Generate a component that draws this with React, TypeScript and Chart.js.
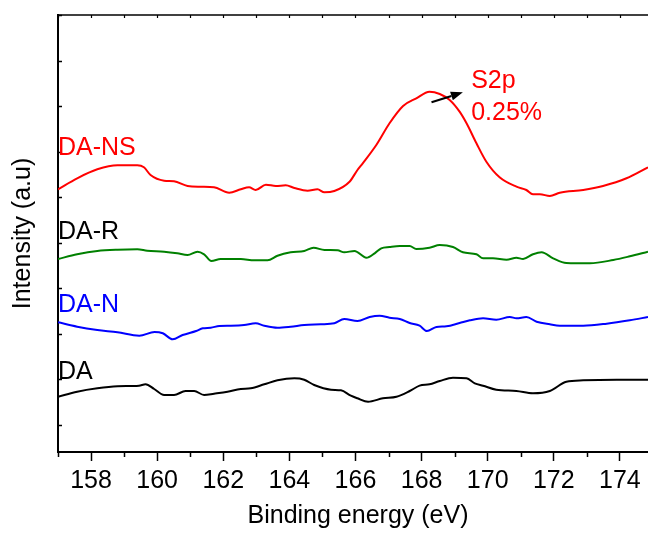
import React, { useEffect, useRef } from 'react';
import { Chart, registerables } from 'chart.js';

Chart.register(...registerables);

// ---- axis ranges / ticks ----
const xMin = 157;
const xMax = 174.85;
const xTickValues = [157, 158, 159, 160, 161, 162, 163, 164, 165, 166, 167, 168, 169, 170, 171, 172, 173, 174];
const yMin = 0;
const yMax = 96;
const yTickValues = [6, 16, 26, 36, 46, 56, 66, 76, 86, 96];
const xTitle = 'Binding energy (eV)';
const yTitle = 'Intensity (a.u)';

// ---- series data (binding energy eV, intensity a.u.) ----
const daNsEnergy = [157.0, 157.58, 158.19, 158.8, 159.4, 159.6, 159.8, 160.21, 160.51, 160.92, 161.32, 161.72, 162.18, 162.53, 162.78, 162.98, 163.29, 163.59, 163.89, 164.15, 164.55, 164.85, 165.06, 165.36, 165.82, 166.06, 166.22, 166.63, 167.03, 167.44, 167.84, 168.24, 168.55, 168.85, 169.15, 169.36, 169.66, 169.96, 170.36, 170.87, 171.17, 171.37, 171.58, 171.88, 172.18, 172.89, 173.49, 174.2, 174.85];
const daNsIntensity = [57.71, 60.13, 62.1, 62.98, 62.98, 62.54, 60.85, 59.6, 59.47, 58.44, 58.28, 58.15, 56.96, 57.71, 58.15, 57.56, 58.72, 58.44, 58.59, 58.0, 57.4, 57.71, 57.05, 57.34, 59.38, 61.95, 63.42, 67.44, 72.21, 76.01, 77.7, 79.15, 78.65, 77.33, 74.76, 72.21, 67.82, 63.77, 60.35, 58.28, 57.56, 56.61, 56.61, 56.24, 56.96, 57.56, 58.44, 60.13, 62.54];

const daREnergy = [157.0, 157.58, 158.19, 158.8, 159.4, 159.7, 160.21, 160.61, 160.92, 161.22, 161.42, 161.64, 161.92, 162.23, 162.53, 162.94, 163.34, 163.64, 164.04, 164.45, 164.73, 165.06, 165.46, 165.66, 165.97, 166.33, 166.58, 166.78, 167.03, 167.34, 167.64, 167.84, 168.24, 168.55, 168.95, 169.25, 169.66, 169.86, 170.16, 170.57, 170.87, 171.07, 171.37, 171.63, 171.98, 172.38, 173.09, 173.8, 174.3, 174.85];
const daRIntensity = [42.4, 43.43, 44.16, 44.44, 44.53, 44.22, 44.0, 43.65, 43.28, 44.0, 43.43, 41.96, 42.4, 42.4, 42.4, 42.11, 42.11, 43.12, 43.87, 44.16, 44.88, 44.38, 44.31, 43.87, 44.16, 42.68, 43.65, 44.75, 45.03, 45.25, 45.25, 44.6, 44.88, 45.47, 45.03, 43.87, 43.43, 42.55, 42.55, 42.24, 42.68, 42.4, 43.43, 43.87, 42.55, 41.52, 41.45, 42.18, 42.99, 44.0];

const daNEnergy = [157.0, 157.58, 158.19, 158.8, 159.46, 159.92, 160.17, 160.47, 160.77, 161.18, 161.38, 161.62, 161.88, 162.23, 162.63, 162.98, 163.24, 163.64, 164.04, 164.45, 164.95, 165.36, 165.66, 166.06, 166.43, 166.73, 167.03, 167.34, 167.64, 167.94, 168.16, 168.45, 168.75, 169.15, 169.46, 169.86, 170.26, 170.67, 170.87, 171.17, 171.48, 171.88, 172.18, 172.89, 173.6, 174.3, 174.85];
const daNIntensity = [28.49, 27.53, 26.8, 26.3, 25.55, 26.36, 26.08, 24.76, 25.7, 26.58, 27.17, 27.31, 27.68, 27.75, 27.9, 28.27, 27.75, 27.31, 27.53, 27.9, 28.05, 28.27, 29.22, 28.78, 29.66, 29.94, 29.5, 29.22, 28.34, 27.75, 26.58, 27.46, 27.61, 28.34, 28.93, 29.37, 29.06, 29.66, 29.37, 29.66, 28.62, 28.05, 27.75, 27.75, 28.19, 28.93, 29.66];

const daEnergy = [157.0, 157.58, 158.19, 158.8, 159.45, 159.65, 159.91, 160.21, 160.51, 160.86, 161.12, 161.42, 161.72, 162.13, 162.53, 162.83, 163.24, 163.64, 164.15, 164.45, 164.75, 165.26, 165.56, 165.86, 166.06, 166.38, 166.83, 167.24, 167.64, 167.94, 168.24, 168.55, 168.95, 169.36, 169.61, 169.86, 170.26, 170.87, 171.37, 171.88, 172.38, 172.89, 173.9, 174.85];
const daIntensity = [12.15, 13.25, 13.99, 14.43, 14.57, 14.87, 13.84, 12.52, 12.52, 13.4, 13.4, 12.52, 12.81, 13.25, 13.84, 13.99, 14.87, 15.75, 16.19, 15.88, 14.72, 13.69, 13.55, 12.37, 11.8, 11.05, 11.8, 12.15, 13.4, 14.57, 14.87, 15.6, 16.32, 16.19, 15.09, 14.57, 13.69, 13.4, 12.9, 13.4, 15.44, 15.75, 15.88, 15.88];

// ---- labels ----
const seriesNames = ['DA-NS', 'DA-R', 'DA-N', 'DA'];
const seriesColors = ['#ff0000', '#008000', '#0000ff', '#000000'];
const labelColors = ['#ff0000', '#000000', '#0000ff', '#000000'];
const labelEnergy = [157.0, 157.0, 157.0, 157.0];
const labelIntensity = [65.25, 46.79, 30.76, 16.04];
const peakText = ['S2p', '0.25%'];
const peakTextEnergy = 169.5;
const peakTextIntensity = [79.96, 72.93];
const arrowFrom = [168.3, 76.82];
const arrowTo = [169.25, 79.02];

const FONT = "'Liberation Sans', Arial, Helvetica, sans-serif";
const FS = 25;

function zip(xs: number[], ys: number[]) {
  const n = Math.min(xs.length, ys.length);
  const out: { x: number; y: number }[] = [];
  for (let i = 0; i < n; i++) out.push({ x: xs[i], y: ys[i] });
  return out;
}

const decorPlugin = {
  id: 'decor',
  afterDraw(chart: any) {
    const ctx = chart.ctx as CanvasRenderingContext2D;
    const { left, right, top, bottom } = chart.chartArea;
    const xs = chart.scales.x;
    const ys = chart.scales.y;
    ctx.save();
    ctx.strokeStyle = '#000';
    // top border
    ctx.lineWidth = 1.5;
    ctx.beginPath();
    ctx.moveTo(left, top);
    ctx.lineTo(right + 1, top);
    ctx.stroke();
    // top inward ticks
    ctx.lineWidth = 1.2;
    xTickValues.forEach((v) => {
      const x = Math.round(xs.getPixelForValue(v)) + 0.5;
      ctx.beginPath();
      ctx.moveTo(x, top);
      ctx.lineTo(x, top + 3);
      ctx.stroke();
    });
    // bottom minor ticks
    ctx.lineWidth = 1.5;
    xTickValues.forEach((v) => {
      if (v % 2 === 0) return;
      const x = Math.round(xs.getPixelForValue(v)) + 0.5;
      ctx.beginPath();
      ctx.moveTo(x, bottom);
      ctx.lineTo(x, bottom + 5);
      ctx.stroke();
    });
    // left inward ticks
    ctx.lineWidth = 1.5;
    yTickValues.forEach((v) => {
      const y = Math.round(ys.getPixelForValue(v)) + 0.5;
      ctx.beginPath();
      ctx.moveTo(left, y);
      ctx.lineTo(left + 4, y);
      ctx.stroke();
    });
    // x axis title
    ctx.font = `${FS}px ${FONT}`;
    ctx.fillStyle = '#000';
    ctx.textAlign = 'center';
    ctx.textBaseline = 'alphabetic';
    ctx.fillText(xTitle, (left + right) / 2 + 5, bottom + 71);
    // series labels
    ctx.textAlign = 'left';
    seriesNames.forEach((name, i) => {
      ctx.fillStyle = labelColors[i];
      ctx.fillText(name, xs.getPixelForValue(labelEnergy[i]), ys.getPixelForValue(labelIntensity[i]));
    });
    // peak annotation
    ctx.fillStyle = '#ff0000';
    peakText.forEach((t, i) => {
      ctx.fillText(t, xs.getPixelForValue(peakTextEnergy), ys.getPixelForValue(peakTextIntensity[i]));
    });
    // arrow
    const x1 = xs.getPixelForValue(arrowFrom[0]);
    const y1 = ys.getPixelForValue(arrowFrom[1]);
    const x2 = xs.getPixelForValue(arrowTo[0]);
    const y2 = ys.getPixelForValue(arrowTo[1]);
    const ang = Math.atan2(y2 - y1, x2 - x1);
    const headLen = 12;
    const headHalf = 4.5;
    const bx = x2 - headLen * Math.cos(ang);
    const by = y2 - headLen * Math.sin(ang);
    ctx.strokeStyle = '#000';
    ctx.fillStyle = '#000';
    ctx.lineWidth = 2;
    ctx.beginPath();
    ctx.moveTo(x1, y1);
    ctx.lineTo(bx, by);
    ctx.stroke();
    ctx.beginPath();
    ctx.moveTo(x2, y2);
    ctx.lineTo(bx + headHalf * Math.sin(ang), by - headHalf * Math.cos(ang));
    ctx.lineTo(bx - headHalf * Math.sin(ang), by + headHalf * Math.cos(ang));
    ctx.closePath();
    ctx.fill();
    ctx.restore();
  },
};

export default function App() {
  const canvasRef = useRef<HTMLCanvasElement | null>(null);

  useEffect(() => {
    if (!canvasRef.current) return;
    const seriesData = [
      zip(daNsEnergy, daNsIntensity),
      zip(daREnergy, daRIntensity),
      zip(daNEnergy, daNIntensity),
      zip(daEnergy, daIntensity),
    ];
    const chart = new Chart(canvasRef.current, {
      type: 'line',
      data: {
        datasets: seriesData.map((d, i) => ({
          label: seriesNames[i],
          data: d,
          borderColor: seriesColors[i],
          backgroundColor: seriesColors[i],
          borderWidth: 2,
          pointRadius: 0,
          fill: false,
          cubicInterpolationMode: 'monotone' as const,
        })),
      },
      options: {
        animation: false,
        responsive: false,
        devicePixelRatio: 1,
        parsing: false as any,
        layout: { padding: { top: 15, right: 0, left: 0, bottom: 0 } },
        plugins: { legend: { display: false }, tooltip: { enabled: false } },
        scales: {
          x: {
            type: 'linear',
            min: xMin,
            max: xMax,
            afterBuildTicks: (s: any) => {
              s.ticks = xTickValues.map((v) => ({ value: v }));
            },
            afterFit: (s: any) => {
              s.height = 82;
            },
            grid: {
              drawOnChartArea: false,
              drawTicks: true,
              tickLength: 9,
              tickWidth: 1.5,
              tickColor: (c: any) => (c.tick && c.tick.value % 2 === 0 ? '#000' : 'rgba(0,0,0,0)'),
            },
            border: { display: true, color: '#000', width: 2 },
            ticks: {
              callback: (v: any) => (Number(v) % 2 === 0 ? String(v) : ''),
              font: { family: FONT, size: FS },
              color: '#000',
              padding: 5,
              maxRotation: 0,
              autoSkip: false,
            },
            title: { display: false },
          },
          y: {
            type: 'linear',
            min: yMin,
            max: yMax,
            afterBuildTicks: (s: any) => {
              s.ticks = yTickValues.map((v) => ({ value: v }));
            },
            afterFit: (s: any) => {
              s.width = 58;
            },
            grid: { display: true, drawOnChartArea: false, drawTicks: false },
            border: { display: true, color: '#000', width: 2 },
            ticks: { display: false },
            title: {
              display: true,
              text: yTitle,
              font: { family: FONT, size: FS },
              color: '#000',
              padding: { top: 8, bottom: 0 },
            },
          },
        },
      },
      plugins: [decorPlugin],
    } as any);
    return () => chart.destroy();
  }, []);

  return (
    <div style={{ position: 'fixed', left: 0, top: 0, width: 648, height: 534, background: '#fff' }}>
      <canvas ref={canvasRef} width={648} height={534} style={{ display: 'block' }} />
    </div>
  );
}
